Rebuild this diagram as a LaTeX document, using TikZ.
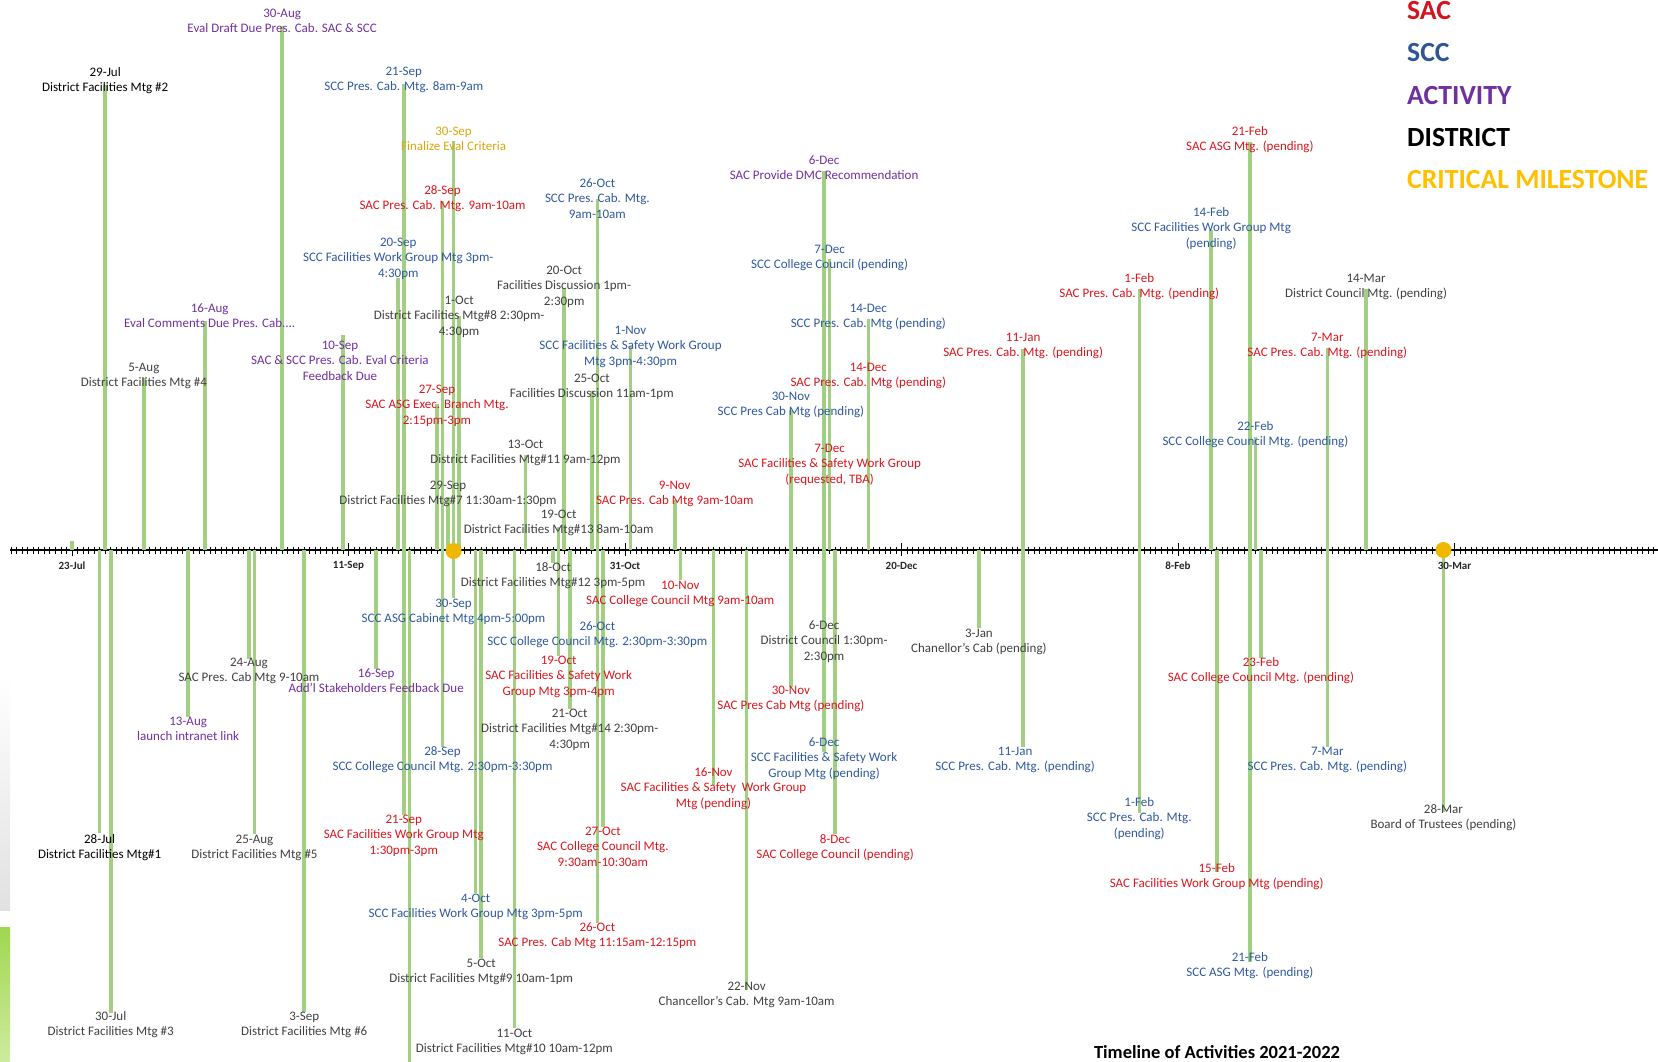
\documentclass[tikz,border=0pt]{standalone}
\usepackage{fontspec}
\setmainfont{Carlito}
\definecolor{sacred}{RGB}{218,22,30}
\definecolor{sccblue}{RGB}{47,88,160}
\definecolor{actpurple}{RGB}{112,48,160}
\definecolor{distgray}{RGB}{64,64,64}
\definecolor{critgold}{RGB}{222,166,10}
\definecolor{stemgreen}{RGB}{163,207,130}
\definecolor{milegold}{RGB}{238,184,0}
\definecolor{legsac}{RGB}{210,20,30}
\definecolor{legscc}{RGB}{47,85,151}
\definecolor{legact}{RGB}{112,48,160}
\definecolor{legcrit}{RGB}{255,192,0}
\definecolor{axtext}{RGB}{38,38,38}
\definecolor{edgegray}{RGB}{225,225,225}
\definecolor{edgegreenA}{RGB}{160,215,80}
\definecolor{edgegreenB}{RGB}{205,235,160}
\pgfdeclarelayer{axislayer}
\pgfdeclarelayer{stemlayer}
\pgfsetlayers{axislayer,stemlayer,main}
\tikzset{
  lab/.style={font=\fontsize{13}{15.3}\selectfont, align=center, inner sep=0pt, anchor=north},
  sac/.style={text=sacred},
  scc/.style={text=sccblue},
  act/.style={text=actpurple},
  dist/.style={text=distgray},
  distk/.style={text=black},
  crit/.style={text=critgold},
  stem/.style={draw=stemgreen, line width=3.6pt},
  axisline/.style={draw=black, line width=2.2pt},
  daytick/.style={draw=black, line width=0.8pt},
  majortick/.style={draw=black, line width=1pt},
  axlab/.style={font=\fontsize{11}{13}\selectfont\bfseries, text=axtext, inner sep=0pt},
  legend/.style={font=\fontsize{27.7}{33}\selectfont\bfseries, anchor=base west, inner sep=0pt},
  milestone/.style={circle, fill=milegold, minimum size=16pt, inner sep=0pt},
  titletext/.style={font=\fontsize{18.5}{22}\selectfont\bfseries, text=black, inner sep=0pt}
}
% #1 name, #2 day, #3 date-line y, #4 style, #5 text, #6 stem end y, #7 x shift (pt)
\newcommand\ev[7]{%
  \coordinate (#1s) at (#2,550);
  \coordinate (#1e) at (#2,#6);
  \begin{pgfonlayer}{stemlayer}\draw[stem] (#1s) -- (#1e);\end{pgfonlayer}
  \node[lab,#4,xshift=#7pt] (#1) at (#2,{#3-6.5}) {\strut #5};
}
\begin{document}
\begin{tikzpicture}[x=1pt,y=-1pt]
\useasboundingbox (0,0) rectangle (1658,1062);
% left edge decoration
\shade[top color=white, bottom color=edgegray] (0,675) rectangle (10,910);
\shade[top color=edgegreenA, bottom color=edgegreenB] (0,927) rectangle (10,1062);
% axis
\coordinate (axL) at (10,550);
\coordinate (axR) at (1658,550);
\begin{pgfonlayer}{axislayer}
\draw[axisline] (axL) -- (axR);
\end{pgfonlayer}
\begin{scope}[x=5.53pt, xshift=72pt]
\begin{pgfonlayer}{axislayer}
\foreach \d in {-11,...,286} \draw[daytick] (\d,546.5) -- (\d,553.5);
\foreach \d in {0,50,100,150,200,250} \draw[majortick] (\d,543) -- (\d,556);
\end{pgfonlayer}
\node[axlab] (t0) at (0,566) {23-Jul};
\node[axlab] (t1) at (50,566) {11-Sep};
\node[axlab] (t2) at (100,566) {31-Oct};
\node[axlab] (t3) at (150,566) {20-Dec};
\node[axlab] (t4) at (200,566) {8-Feb};
\node[axlab] (t5) at (250,566) {30-Mar};
% extra stems without labels
\coordinate (x0s) at (0,550); \coordinate (x0e) at (0,541);
\coordinate (x61s) at (61,550); \coordinate (x61e) at (61,1062);
\begin{pgfonlayer}{stemlayer}
\draw[stem] (x0s) -- (x0e);
\draw[stem] (x61s) -- (x61e);
\end{pgfonlayer}
% ---------------- above the axis ----------------
\ev{a1}{38}{13}{act}{30-Aug\\Eval Draft Due Pres. Cab. SAC \& SCC}{26}{0}
\ev{a2}{6}{72}{distk}{29-Jul\\District Facilities Mtg \#2}{85}{0}
\ev{a3}{60}{71}{scc}{21-Sep\\SCC Pres. Cab. Mtg. 8am-9am}{84}{0}
\ev{a4}{69}{131}{crit}{30-Sep\\Finalize Eval Criteria}{141}{0}
\ev{a5}{67}{190}{sac}{28-Sep\\SAC Pres. Cab. Mtg. 9am-10am}{201}{0}
\ev{a6}{59}{242}{scc}{20-Sep\\SCC Facilities Work Group Mtg 3pm-\\4:30pm}{278}{0}
\ev{a7}{95}{183}{scc}{26-Oct\\SCC Pres. Cab. Mtg.\\9am-10am}{199}{0}
\ev{a8}{89}{270}{dist}{20-Oct\\Facilities Discussion 1pm-\\2:30pm}{288}{0}
\ev{a9}{70}{300}{dist}{1-Oct\\District Facilities Mtg\#8 2:30pm-\\4:30pm}{316}{0}
\ev{a10}{24}{308}{act}{16-Aug\\Eval Comments Due Pres. Cab....}{321}{5}
\ev{a11}{49}{345}{act}{10-Sep\\SAC \& SCC Pres. Cab. Eval Criteria\\Feedback Due}{335}{-3}
\ev{a12}{13}{367}{dist}{5-Aug\\District Facilities Mtg \#4}{378}{0}
\ev{a13}{66}{389}{sac}{27-Sep\\SAC ASG Exec. Branch Mtg.\\2:15pm-3pm}{404}{0}
\ev{a14}{101}{330}{scc}{1-Nov\\SCC Facilities \& Safety Work Group\\Mtg 3pm-4:30pm}{346}{0}
\ev{a15}{94}{378}{dist}{25-Oct\\Facilities Discussion 11am-1pm}{391}{0}
\ev{a16}{82}{444}{dist}{13-Oct\\District Facilities Mtg\#11 9am-12pm}{455}{0}
\ev{a17}{68}{485}{dist}{29-Sep\\District Facilities Mtg\#7 11:30am-1:30pm}{497}{0}
\ev{a18}{88}{514}{dist}{19-Oct\\District Facilities Mtg\#13 8am-10am}{527}{0}
\ev{a19}{109}{485}{sac}{9-Nov\\SAC Pres. Cab Mtg 9am-10am}{500}{0}
\ev{a20}{136}{160}{act}{6-Dec\\SAC Provide DMC Recommendation}{171}{0}
\ev{a21}{137}{249}{scc}{7-Dec\\SCC College Council (pending)}{259}{0}
\ev{a22}{144}{308}{scc}{14-Dec\\SCC Pres. Cab. Mtg (pending)}{319}{0}
\ev{a23}{144}{367}{sac}{14-Dec\\SAC Pres. Cab. Mtg (pending)}{380}{0}
\ev{a24}{130}{396}{scc}{30-Nov\\SCC Pres Cab Mtg (pending)}{410}{0}
\ev{a25}{137}{448}{sac}{7-Dec\\SAC Facilities \& Safety Work Group\\(requested, TBA)}{461}{0}
\ev{a26}{172}{337}{sac}{11-Jan\\SAC Pres. Cab. Mtg. (pending)}{349}{0}
\ev{a27}{193}{278}{sac}{1-Feb\\SAC Pres. Cab. Mtg. (pending)}{289}{0}
\ev{a28}{206}{212}{scc}{14-Feb\\SCC Facilities Work Group Mtg\\(pending)}{230}{0}
\ev{a29}{213}{131}{sac}{21-Feb\\SAC ASG Mtg. (pending)}{142}{0}
\ev{a30}{234}{278}{dist}{14-Mar\\District Council Mtg. (pending)}{289}{0}
\ev{a31}{227}{337}{sac}{7-Mar\\SAC Pres. Cab. Mtg. (pending)}{348}{0}
\ev{a32}{214}{426}{scc}{22-Feb\\SCC College Council Mtg. (pending)}{437}{0}
% ---------------- below the axis ----------------
\ev{b1}{87}{567}{dist}{18-Oct\\District Facilities Mtg\#12 3pm-5pm}{563}{0}
\ev{b2}{110}{585}{sac}{10-Nov\\SAC College Council Mtg 9am-10am}{580}{0}
\ev{b3}{69}{603}{scc}{30-Sep\\SCC ASG Cabinet Mtg 4pm-5:00pm}{598}{0}
\ev{b4}{95}{626}{scc}{26-Oct\\SCC College Council Mtg. 2:30pm-3:30pm}{622}{0}
\ev{b5}{136}{625}{dist}{6-Dec\\District Council 1:30pm-\\2:30pm}{621}{0}
\ev{b6}{88}{660}{sac}{19-Oct\\SAC Facilities \& Safety Work\\Group Mtg 3pm-4pm}{656}{0}
\ev{b7}{55}{673}{act}{16-Sep\\Add’l Stakeholders Feedback Due}{669}{0}
\ev{b8}{32}{662}{dist}{24-Aug\\SAC Pres. Cab Mtg 9-10am}{659}{0}
\ev{b9}{21}{721}{act}{13-Aug\\launch intranet link}{717}{0}
\ev{b10}{130}{690}{sac}{30-Nov\\SAC Pres Cab Mtg (pending)}{687}{0}
\ev{b11}{164}{633}{dist}{3-Jan\\Chanellor’s Cab (pending)}{628}{0}
\ev{b12}{215}{662}{sac}{23-Feb\\SAC College Council Mtg. (pending)}{658}{0}
\ev{b13}{90}{713}{dist}{21-Oct\\District Facilities Mtg\#14 2:30pm-\\4:30pm}{709}{0}
\ev{b14}{67}{751}{scc}{28-Sep\\SCC College Council Mtg. 2:30pm-3:30pm}{747}{0}
\ev{b15}{136}{742}{scc}{6-Dec\\SCC Facilities \& Safety Work\\Group Mtg (pending)}{752}{0}
\ev{b16}{116}{772}{sac}{16-Nov\\SAC Facilities \& Safety\ \ Work Group\\Mtg (pending)}{785}{0}
\ev{b17}{172}{751}{scc}{11-Jan\\SCC Pres. Cab. Mtg. (pending)}{747}{-8}
\ev{b18}{227}{751}{scc}{7-Mar\\SCC Pres. Cab. Mtg. (pending)}{747}{0}
\ev{b19}{248}{809}{dist}{28-Mar\\Board of Trustees (pending)}{812}{0}
\ev{b20}{193}{802}{scc}{1-Feb\\SCC Pres. Cab. Mtg.\\(pending)}{813}{0}
\ev{b21}{5}{839}{distk}{28-Jul\\District Facilities Mtg\#1}{833}{0}
\ev{b22}{33}{839}{dist}{25-Aug\\District Facilities Mtg \#5}{834}{0}
\ev{b23}{60}{819}{sac}{21-Sep\\SAC Facilities Work Group Mtg\\1:30pm-3pm}{815}{0}
\ev{b24}{96}{831}{sac}{27-Oct\\SAC College Council Mtg.\\9:30am-10:30am}{827}{0}
\ev{b25}{138}{839}{sac}{8-Dec\\SAC College Council (pending)}{834}{0}
\ev{b26}{207}{868}{sac}{15-Feb\\SAC Facilities Work Group Mtg (pending)}{872}{0}
\ev{b27}{73}{898}{scc}{4-Oct\\SCC Facilities Work Group Mtg 3pm-5pm}{893}{0}
\ev{b28}{95}{927}{sac}{26-Oct\\SAC Pres. Cab Mtg 11:15am-12:15pm}{923}{0}
\ev{b29}{74}{963}{dist}{5-Oct\\District Facilities Mtg\#9 10am-1pm}{958}{0}
\ev{b30}{122}{986}{dist}{22-Nov\\Chancellor’s Cab. Mtg 9am-10am}{990}{0}
\ev{b31}{213}{957}{scc}{21-Feb\\SCC ASG Mtg. (pending)}{962}{0}
\ev{b32}{7}{1016}{dist}{30-Jul\\District Facilities Mtg \#3}{1013}{0}
\ev{b33}{42}{1016}{dist}{3-Sep\\District Facilities Mtg \#6}{1012}{0}
\ev{b34}{80}{1033}{dist}{11-Oct\\District Facilities Mtg\#10 10am-12pm}{1028}{0}
% milestones
\node[milestone] (m1) at (69,551) {};
\node[milestone] (m2) at (248,550) {};
\end{scope}
% legend
\node[legend, text=legsac] (lg1) at (1407,20) {SAC};
\node[legend, text=legscc] (lg2) at (1407,62) {SCC};
\node[legend, text=legact] (lg3) at (1407,105) {ACTIVITY};
\node[legend, text=black] (lg4) at (1407,147) {DISTRICT};
\node[legend, text=legcrit] (lg5) at (1407,189) {CRITICAL MILESTONE};
% title
\node[titletext] (title) at (1217,1052) {Timeline of Activities 2021-2022};
\end{tikzpicture}
\end{document}
